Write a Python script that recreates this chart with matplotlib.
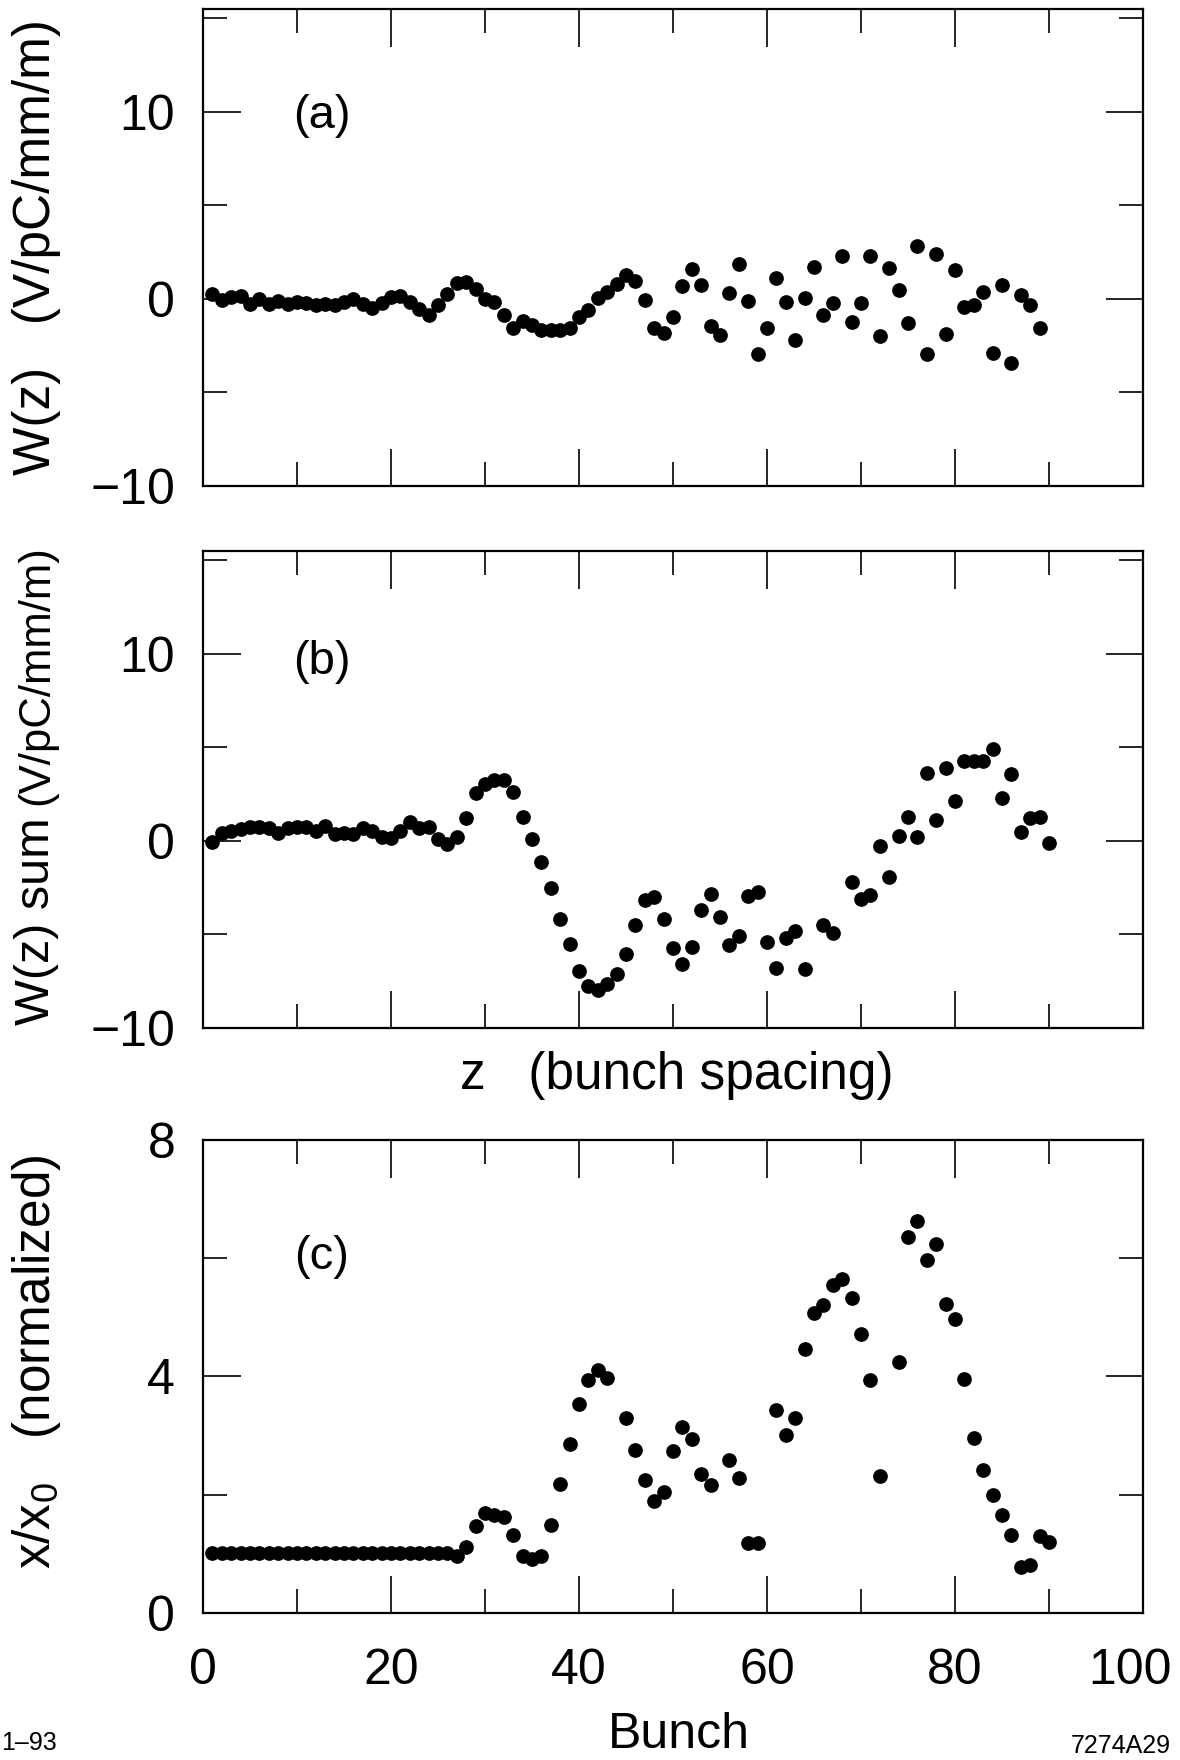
import matplotlib
matplotlib.use("Agg")
import matplotlib.pyplot as plt
import matplotlib.transforms as mtransforms
from matplotlib.ticker import MultipleLocator, NullFormatter

plt.rcParams['font.family'] = ['Liberation Sans', 'DejaVu Sans']

# ---------------- data ----------------
bunch_a = list(range(1, 90))
wake_a = [0.26, -0.04, 0.09, 0.14, -0.26, 0.00, -0.26, -0.09, -0.26, -0.14,
          -0.21, -0.32, -0.26, -0.32, -0.14, 0.00, -0.26, -0.49, -0.21, 0.09,
          0.14, -0.18, -0.53, -0.84, -0.32, 0.26, 0.84, 0.91, 0.53, 0.00,
          -0.18, -0.84, -1.54, -1.19, -1.40, -1.67, -1.67, -1.67, -1.58, -0.97,
          -0.58, 0.05, 0.35, 0.79, 1.26, 0.96, -0.04, -1.54, -1.84, -0.96,
          0.67, 1.58, 0.74, -1.46, -1.93, 0.30, 1.88, -0.12, -2.93, -1.58,
          1.14, -0.14, -2.19, 0.05, 1.70, -0.88, -0.23, 2.32, -1.23, -0.21,
          2.32, -1.98, 1.67, 0.49, -1.26, 2.84, -2.93, 2.42, -1.88, 1.54,
          -0.44, -0.32, 0.35, -2.89, 0.75, -3.42, 0.21, -0.30, -1.54]

bunch_b = list(range(1, 65)) + [66, 67] + list(range(69, 91))
wake_sum_b = [-0.05, 0.40, 0.54, 0.62, 0.76, 0.76, 0.67, 0.44, 0.71, 0.76,
              0.76, 0.54, 0.81, 0.37, 0.44, 0.37, 0.67, 0.54, 0.23, 0.14,
              0.54, 1.03, 0.67, 0.76, 0.08, -0.16, 0.23, 1.24, 2.57, 3.03,
              3.28, 3.24, 2.62, 1.26, 0.08, -1.15, -2.52, -4.15, -5.53, -6.95,
              -7.75, -7.95, -7.66, -7.13, -6.06, -4.52, -3.18, -3.00, -4.17, -5.71,
              -6.60, -5.69, -3.67, -2.82, -4.06, -5.57, -5.09, -2.97, -2.75, -5.41,
              -6.78, -5.17, -4.82, -6.86,
              -4.47, -4.91,
              -2.20, -3.10, -2.87, -0.25, -1.95, 0.27, 1.29, 0.23, 3.65, 1.12,
              3.90, 2.14, 4.26, 4.26, 4.26, 4.89, 2.32, 3.56, 0.49, 1.24,
              1.29, -0.09]

bunch_c = (list(range(1, 44)) + list(range(45, 55)) + list(range(56, 60))
           + list(range(61, 73)) + list(range(74, 91)))
amp_c = [1.02] * 26 + [
    0.96, 1.12, 1.48, 1.69, 1.66, 1.62, 1.32, 0.96, 0.92, 0.97,
    1.49, 2.19, 2.86, 3.54, 3.94, 4.10, 3.97,
    3.30, 2.75, 2.25, 1.90, 2.04, 2.74, 3.15, 2.94, 2.36, 2.17,
    2.58, 2.28, 1.18, 1.19,
    3.44, 3.01, 3.29, 4.46, 5.07, 5.21, 5.54, 5.64, 5.33, 4.71, 3.94, 2.32,
    4.24, 6.35, 6.62, 5.96, 6.23, 5.23, 4.97, 3.95, 2.96, 2.42, 2.00, 1.66,
    1.33, 0.79, 0.82, 1.31, 1.20]

x_ticks = [0, 20, 40, 60, 80, 100]
panel_tags = ["(a)", "(b)", "(c)"]

# ---------------- figure ----------------
W, H = 1180, 1760
fig = plt.figure(figsize=(W / 100, H / 100), dpi=100)

left = 203 / W
width = 940 / W

def axes_px(top, bottom):
    return fig.add_axes([left, 1 - bottom / H, width, (bottom - top) / H])

ax_a = axes_px(9, 486)
ax_b = axes_px(551, 1028)
ax_c = axes_px(1139.5, 1613.3)

ms = 10.6
ax_a.plot(bunch_a, wake_a, 'o', color='black', ms=ms, mec='none')
ax_b.plot(bunch_b, wake_sum_b, 'o', color='black', ms=ms, mec='none')
ax_c.plot(bunch_c, amp_c, 'o', color='black', ms=ms, mec='none')

for ax in (ax_a, ax_b, ax_c):
    ax.set_xlim(0, 100)
    ax.xaxis.set_major_locator(MultipleLocator(20))
    ax.xaxis.set_minor_locator(MultipleLocator(10))
    for s in ax.spines.values():
        s.set_linewidth(1.6)
    ax.tick_params(which='both', direction='in', top=True, right=True,
                   width=1.2, labelsize=36, color='black')
    ax.tick_params(which='major', length=27)
    ax.tick_params(which='minor', length=17)
    ax.tick_params(axis='y', pad=20)
    ax.tick_params(axis='x', pad=25)

for ax in (ax_a, ax_b):
    ax.set_ylim(-10, 15.5)
    ax.yaxis.set_minor_locator(MultipleLocator(5))
    ax.xaxis.set_major_formatter(NullFormatter())
    ax.set_yticks([-10, 0, 10])
    ax.set_yticklabels(['\u221210', '0', '10'])

ax_c.set_ylim(0, 8)
ax_c.yaxis.set_major_locator(MultipleLocator(4))
ax_c.yaxis.set_minor_locator(MultipleLocator(2))
ax_c.set_xticks(x_ticks)
ax_c.set_xticklabels([str(v) for v in x_ticks])

# shift the last x tick label ("100") a little left so it stays on the page
last_lbl = ax_c.get_xticklabels()[-1]
last_lbl.set_transform(last_lbl.get_transform() +
                       mtransforms.ScaledTranslation(-0.13, 0, fig.dpi_scale_trans))

# panel tags
for tag, (px, py) in zip(panel_tags, [(322, 116), (322, 662), (322, 1257)]):
    fig.text(px / W, 1 - py / H, tag, fontsize=34, ha='center', va='center')

# y labels
fig.text(37 / W, 1 - 247 / H, 'W(z)   (V/pC/mm/m)', rotation=90,
         fontsize=37, ha='center', va='center')
fig.text(37 / W, 1 - 921 / H, 'W(z) sum', rotation=90,
         fontsize=35, ha='center', va='center')
fig.text(37 / W, 1 - 675 / H, '(V/pC/mm/m)', rotation=90,
         fontsize=31.5, ha='center', va='center')
fig.text(37 / W, 1 - 1362 / H, r'x/x$_{\mathregular{0}}$   (normalized)', rotation=90,
         fontsize=37, ha='center', va='center')

# intermediate x label and bottom label
fig.text(677 / W, 1 - 1075 / H, 'z   (bunch spacing)', fontsize=37,
         ha='center', va='center')
fig.text(679 / W, 1 - 1735 / H, 'Bunch', fontsize=36, ha='center', va='center')

# corner ids
fig.text(1 / W, 1 - 1743 / H, '1\u201393', fontsize=18, ha='left', va='center')
fig.text(1171 / W, 1 - 1746 / H, '7274A29', fontsize=18, ha='right', va='center')

fig.savefig('out.png', dpi=100, facecolor='white')
